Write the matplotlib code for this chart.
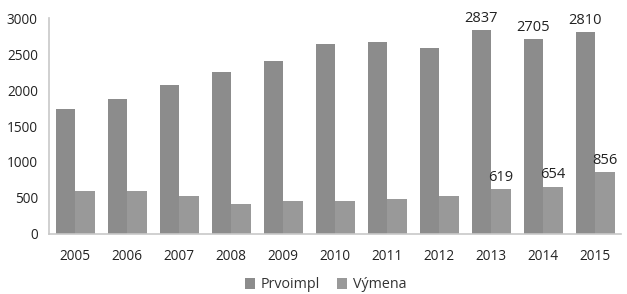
import numpy as np
import matplotlib.pyplot as plt

# data
years = ['2005', '2006', '2007', '2008', '2009', '2010', '2011', '2012', '2013', '2014', '2015']
prvoimpl = [1735, 1880, 2065, 2255, 2400, 2640, 2668, 2582, 2837, 2705, 2810]
vymena = [592, 592, 522, 408, 450, 450, 478, 528, 619, 654, 856]
labeled = ['2013', '2014', '2015']

plt.rcParams['font.family'] = ['Open Sans', 'DejaVu Sans']

fig = plt.figure(figsize=(6.27, 2.94), dpi=100)
ax = fig.add_axes([49 / 627, 60.3 / 294, 572 / 627, 215.4 / 294])

x = np.arange(len(years))
w = 0.375
b1 = ax.bar(x - w / 2, prvoimpl, w, color='#8c8c8c', label='Prvoimpl')
b2 = ax.bar(x + w / 2, vymena, w, color='#999999', label='Výmena')

for i, y in enumerate(years):
    if y in labeled:
        ax.text(x[i] - w / 2, prvoimpl[i] + 60, str(prvoimpl[i]), ha='center', va='bottom',
                fontsize=10.5, color='#222222')
        ax.text(x[i] + w / 2, vymena[i] + 60, str(vymena[i]), ha='center', va='bottom',
                fontsize=10.5, color='#222222')

ax.set_xlim(-0.5, len(years) - 0.5)
ax.set_ylim(0, 3000)
ax.set_yticks(range(0, 3001, 500))
ax.set_xticks(x)
ax.set_xticklabels(years)
ax.tick_params(axis='both', length=0, labelsize=9.8, colors='#222222')
ax.tick_params(axis='x', pad=11)
ax.tick_params(axis='y', pad=8)

for s in ['top', 'right']:
    ax.spines[s].set_visible(False)
for s in ['left', 'bottom']:
    ax.spines[s].set_color('#c8c8c8')
    ax.spines[s].set_linewidth(1.2)

leg = fig.legend(handles=[b1, b2], loc='center', bbox_to_anchor=(0.519, 9 / 294),
                 ncol=2, frameon=False, fontsize=10.3, handlelength=0.7, handleheight=0.7,
                 handletextpad=0.4, columnspacing=1.2)
for t in leg.get_texts():
    t.set_color('#333333')

fig.savefig('out.png', dpi=100)
